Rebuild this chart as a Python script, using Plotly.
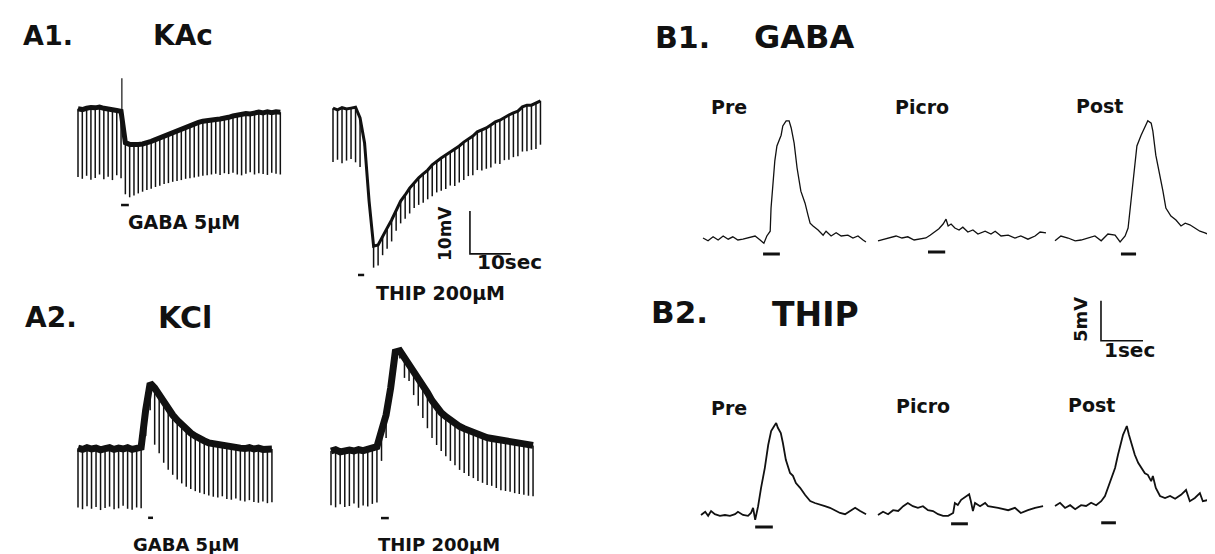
import plotly.graph_objects as go

W, H = 1215, 554
FONT = "DejaVu Sans"
INK = "#111111"

# ---------------- DATA ----------------
# A panels: one value per current pulse (mV, relative to resting level)
A1L_PERIOD = 1.05  # s between hyperpolarizing pulses
A1L_TOP = [0.3, 0.1, 0.4, 0.6, 0.5, 0.7, 0.4, 0.3, 0.1, -0.1, -0.3,
           -7.6, -8.0, -8.1, -8.0, -7.9, -7.7, -7.3, -6.9, -6.5, -6.0, -5.5, -5.0,
           -4.6, -4.2, -3.8, -3.5, -3.1, -2.9, -2.6, -2.4, -2.3, -2.2, -2.1, -2.0,
           -1.7, -1.4, -1.1, -0.9, -0.8, -0.9, -0.6, -0.5, -0.7, -0.4, -0.6, -0.4, -0.5]
A1L_BOT = [-15.6, -16.0, -15.3, -16.2, -15.8, -15.0, -16.1, -15.5, -16.3, -15.2, -15.9,
           -19.6, -20.3, -19.9, -19.4, -19.0, -18.6, -18.3, -17.9, -17.6, -17.2, -17.0,
           -16.7, -16.5, -16.3, -16.0, -15.9, -15.7, -15.5, -15.3, -15.2, -15.0, -14.8,
           -15.1, -14.7, -14.9, -14.6, -15.0, -15.2, -14.8, -14.5, -15.0, -14.7, -14.9,
           -15.1, -14.6, -14.8, -15.0]
A1L_ARTIFACT_T = [10.7, 10.7]
A1L_ARTIFACT_V = [-1.0, 7.4]
A1L_DRUG = [10.5, 12.4]

A1R_PERIOD = 1.1
A1R_TOP = [0.2, -0.2, 0.3, 0.0, 0.2, 0.4, -2.1, -7.9, -21.4, -31.9, -31.6, -29.5, -27.7,
           -25.8, -23.5, -21.4, -20.0, -18.4, -17.2, -16.0, -15.1, -14.2, -13.0, -12.1,
           -11.4, -10.7, -10.0, -9.5, -8.6, -7.7, -7.0, -6.3, -5.3, -4.9, -4.4, -3.7,
           -3.0, -2.6, -1.9, -1.4, -0.9, -0.5, 0.5, 0.9, 0.9, 1.4, 1.9]
A1R_BOT = [-12.3, -11.8, -12.6, -12.0, -11.6, -12.4, -13.5, -8.5, -22.0, -36.9, -36.4,
           -34.0, -32.5, -30.8, -28.3, -26.6, -25.5, -24.3, -23.0, -22.3, -21.8, -21.0,
           -20.3, -19.4, -19.0, -18.6, -17.8, -17.9, -17.1, -16.5, -15.6, -15.4, -14.2,
           -14.3, -13.9, -13.6, -12.7, -12.8, -11.9, -11.8, -11.2, -11.0, -9.9, -9.8,
           -9.5, -9.3, -8.3]
A1R_DRUG = [6.1, 7.6]

A2L_PERIOD = 1.1
A2L_TOP = [0.2, -0.1, 0.3, 0.0, 0.2, -0.2, 0.1, 0.3, -0.1, 0.2, 0.0, 0.3, -0.1, 0.2, 0.4,
           9.0, 15.3, 14.2, 12.6, 10.7, 9.3, 7.9, 6.7, 5.6, 4.7, 3.7, 3.0, 2.3, 1.9, 1.4,
           1.2, 0.9, 0.7, 0.5, 0.2, 0.4, 0.2, 0.1, 0.3, 0.0, 0.2, -0.1, 0.1, 0.0]
A2L_BOT = [-13.6, -14.0, -13.3, -13.9, -13.5, -14.2, -13.7, -13.4, -14.0, -13.8, -13.2,
           -13.9, -14.1, -13.6, -13.8,
           3.0, 9.0, 1.0, -1.0, -3.2, -4.8, -6.0, -7.1, -8.0, -8.8, -9.3, -9.8, -10.2,
           -10.5, -10.8, -11.1, -11.3, -11.0, -11.6, -11.8, -11.5, -12.0, -12.2, -11.9,
           -12.3, -12.5, -12.2, -12.6, -12.4]
A2L_DRUG = [17.1, 18.3]

A2R_PERIOD = 1.12
A2R_TOP = [0.0, 0.3, -0.2, 0.1, 0.2, 0.0, 0.3, 0.1, 0.4, 0.6, 1.0,
           4.7, 8.4, 14.7, 23.0, 23.3, 21.8, 20.3, 18.7, 17.1, 15.2, 13.6, 11.7, 10.1,
           8.9, 8.0, 7.1, 6.4, 5.7, 5.2, 4.7, 4.3, 3.8, 3.6, 3.1, 2.9, 2.7, 2.4, 2.2,
           2.0, 1.9, 1.7, 1.5, 1.4, 1.3]
A2R_BOT = [-12.6, -13.1, -12.4, -13.0, -12.8, -12.2, -13.2, -12.7, -12.9, -12.3, -12.0,
           -2.3, 3.0, 12.0, 20.5, 21.5, 17.0, 16.3, 13.0, 10.5, 7.7, 5.3, 3.0, 1.4, 0.0,
           -1.2, -2.3, -3.3, -4.4, -5.1, -5.8, -6.3, -7.0, -7.4, -7.9, -8.1, -8.6, -9.1,
           -9.3, -9.5, -9.8, -10.0, -10.2, -10.4, -10.5]
A2R_DRUG = [12.2, 14.1]

# B panels: time (s) and membrane potential (mV, relative to baseline)
B1_PRE_T = [0.00, 0.12, 0.24, 0.36, 0.48, 0.60, 0.71, 0.83, 0.95, 1.07, 1.17, 1.24, 1.36,
            1.45, 1.52, 1.60, 1.62, 1.71, 1.76, 1.86, 1.90, 1.98, 2.05, 2.10, 2.17, 2.24,
            2.33, 2.43, 2.50, 2.55, 2.62, 2.74, 2.86, 2.93, 3.05, 3.17, 3.29, 3.45, 3.57,
            3.69, 3.81, 3.88]
B1_PRE_V = [0.25, -0.1, 0.4, 0.0, 0.5, 0.1, 0.4, 0.0, 0.1, 0.25, 0.4, 0.5, 0.0,
            -0.4, 0.5, 1.1, 4.0, 9.9, 11.75, 13.1, 14.25, 14.9, 14.9, 14.0, 12.1, 9.0,
            6.1, 4.6, 3.1, 2.1, 1.75, 1.25, 0.6, 1.1, 0.5, 0.9, 0.5, 0.6, 0.25,
            0.5, 0.0, -0.25]
B1_PRE_DRUG = [1.43, 1.83]

B1_PICRO_T = [0.00, 0.14, 0.29, 0.43, 0.57, 0.71, 0.86, 1.00, 1.14, 1.24, 1.36, 1.45, 1.55,
              1.62, 1.67, 1.74, 1.83, 1.93, 2.02, 2.14, 2.26, 2.38, 2.55, 2.69, 2.79, 2.93,
              3.10, 3.26, 3.40, 3.57, 3.74, 3.86, 4.00]
B1_PICRO_V = [-0.1, 0.1, 0.25, 0.5, 0.25, 0.4, 0.0, 0.1, 0.25, 0.6, 1.1, 1.4, 2.0,
              2.6, 1.75, 2.0, 1.5, 1.25, 1.6, 1.0, 1.25, 0.75, 1.1, 0.75, 1.1, 0.5,
              0.6, 0.25, 0.5, 0.1, 0.5, 1.0, 0.9]
B1_PICRO_DRUG = [1.19, 1.60]

B1_POST_T = [0.00, 0.14, 0.31, 0.48, 0.62, 0.79, 0.95, 1.10, 1.26, 1.43, 1.55, 1.67, 1.74,
             1.81, 1.90, 1.95, 2.05, 2.14, 2.21, 2.29, 2.33, 2.40, 2.50, 2.57, 2.64, 2.76,
             2.88, 3.00, 3.10, 3.21, 3.33, 3.45, 3.57, 3.69, 3.81, 3.95]
B1_POST_V = [-0.1, 0.5, 0.25, -0.1, 0.0, 0.25, 0.5, -0.1, 0.75, 0.6, -0.25, 0.5, 1.5,
             4.9, 9.9, 11.75, 13.1, 14.25, 14.9, 14.6, 13.6, 10.6, 8.1, 6.1, 4.0, 3.0,
             2.5, 1.75, 2.1, 1.9, 1.5, 1.1, 0.9, 0.6, 0.25, 0.0]
B1_POST_DRUG = [1.57, 1.93]

B2_PRE_T = [0.00, 0.10, 0.17, 0.24, 0.33, 0.45, 0.57, 0.69, 0.81, 0.88, 1.00, 1.12, 1.19,
            1.24, 1.29, 1.36, 1.43, 1.52, 1.60, 1.67, 1.74, 1.79, 1.83, 1.90, 1.95, 2.02,
            2.12, 2.19, 2.26, 2.36, 2.48, 2.60, 2.71, 2.83, 2.95, 3.07, 3.19, 3.31, 3.43,
            3.55, 3.67, 3.79, 3.93]
B2_PRE_V = [0.0, 0.4, -0.1, 0.5, 0.1, -0.1, 0.0, -0.1, 0.1, 0.4, 0.0, -0.1, 0.25,
            0.9, -0.6, 1.1, 3.4, 5.9, 8.75, 10.5, 11.1, 11.5, 10.9, 10.25, 9.0, 6.9,
            5.25, 4.9, 4.0, 3.4, 2.5, 1.75, 1.5, 1.25, 1.1, 0.9, 0.6, 0.25, 0.1,
            0.5, 0.9, 0.5, 0.1]
B2_PRE_DRUG = [1.29, 1.71]

B2_PICRO_T = [0.00, 0.12, 0.24, 0.36, 0.48, 0.60, 0.71, 0.83, 0.95, 1.07, 1.19, 1.31, 1.43,
              1.55, 1.67, 1.79, 1.83, 1.90, 1.98, 2.10, 2.17, 2.21, 2.26, 2.31, 2.43, 2.55,
              2.62, 2.86, 3.10, 3.26, 3.40, 3.57, 3.74, 3.93]
B2_PICRO_V = [0.0, 0.4, 0.1, 0.6, 0.5, 1.1, 1.5, 1.1, 0.9, 1.1, 0.6, 0.5, 0.1,
              -0.1, -0.1, 0.25, 1.5, 1.25, 1.9, 2.4, 2.6, 1.75, 0.5, 1.5, 1.1, 1.5,
              1.1, 0.9, 0.6, 0.9, 0.25, 0.6, 0.9, 1.1]
B2_PICRO_DRUG = [1.74, 2.14]

B2_POST_T = [0.00, 0.12, 0.24, 0.36, 0.48, 0.62, 0.74, 0.86, 0.98, 1.10, 1.19, 1.26, 1.33,
             1.43, 1.50, 1.57, 1.62, 1.67, 1.71, 1.76, 1.81, 1.90, 1.98, 2.05, 2.14, 2.21,
             2.29, 2.33, 2.40, 2.50, 2.62, 2.74, 2.86, 3.00, 3.12, 3.21, 3.33, 3.45, 3.52,
             3.64, 3.76, 3.88, 4.00]
B2_POST_V = [0.0, 0.4, -0.25, 0.1, -0.4, 0.1, 0.0, 0.4, 0.1, 0.6, 1.25, 2.25, 3.5,
             4.75, 6.4, 7.9, 8.9, 9.5, 10.0, 8.9, 7.9, 6.4, 5.4, 4.75, 4.1, 3.9,
             3.1, 3.75, 2.25, 1.25, 1.0, 1.25, 0.9, 1.4, 2.0, 0.6, 1.0, 1.6, 0.6,
             0.75, 1.25, 0.6, 1.4]
B2_POST_DRUG = [1.10, 1.45]

SCALE_A = (10, 10)   # 10 sec, 10 mV
SCALE_B = (1, 5)     # 1 sec, 5 mV

# ---------------- LAYOUT (pixel placement of each recording) ----------------
A_SX, A_SY = 4.1, 4.3   # px per s, px per mV
B_SX, B_SY = 42.0, 8.0

PANELS = [  # name, origin x px, origin y px (t=0, V=0), px/s, px/mV
    ("A1L", 70, 102, A_SX, A_SY),
    ("A1R", 325, 101, A_SX, A_SY),
    ("A2L", 70, 441, A_SX, A_SY),
    ("A2R", 323, 443, A_SX, A_SY),
    ("B1pre", 695, 232, B_SX, B_SY),
    ("B1picro", 870, 232, B_SX, B_SY),
    ("B1post", 1047, 232, B_SX, B_SY),
    ("B2pre", 693, 507, B_SX, B_SY),
    ("B2picro", 870, 507, B_SX, B_SY),
    ("B2post", 1047, 498, B_SX, B_SY),
]

fig = go.Figure()
layout_axes = {}
AX = {}
for k, (name, ox, oy, sx, sy) in enumerate(PANELS, start=1):
    xs = "" if k == 1 else str(k)
    xa, ya = "x" + xs, "y" + xs
    xd = dict(domain=[0, 1], range=[-ox / sx, (W - ox) / sx], visible=False,
              fixedrange=True, anchor=ya)
    yd = dict(domain=[0, 1], range=[(oy - H) / sy, oy / sy], visible=False,
              fixedrange=True, anchor=xa)
    if k > 1:
        xd["overlaying"] = "x"
        yd["overlaying"] = "y"
    layout_axes["xaxis" + xs] = xd
    layout_axes["yaxis" + xs] = yd
    AX[name] = (xa, ya)


def line(name, x, y, width, color=INK):
    xa, ya = AX[name]
    fig.add_trace(go.Scatter(x=x, y=y, mode="lines", xaxis=xa, yaxis=ya,
                             line=dict(color=color, width=width),
                             hoverinfo="skip", showlegend=False))


def pulse_trace(name, period, top, bot, band_w, pulse_w=1.5):
    t = [i * period for i in range(len(top))]
    px, py = [], []
    for ti, a, b in zip(t, top, bot):
        px += [ti, ti, None]
        py += [a, b, None]
    line(name, px, py, pulse_w)
    line(name, t, top, band_w)


pulse_trace("A1L", A1L_PERIOD, A1L_TOP, A1L_BOT, 5)
line("A1L", A1L_ARTIFACT_T, A1L_ARTIFACT_V, 1.2)
pulse_trace("A1R", A1R_PERIOD, A1R_TOP, A1R_BOT, 3)
pulse_trace("A2L", A2L_PERIOD, A2L_TOP, A2L_BOT, 7)
pulse_trace("A2R", A2R_PERIOD, A2R_TOP, A2R_BOT, 7)

line("B1pre", B1_PRE_T, B1_PRE_V, 1.3)
line("B1picro", B1_PICRO_T, B1_PICRO_V, 1.3)
line("B1post", B1_POST_T, B1_POST_V, 1.3)
line("B2pre", B2_PRE_T, B2_PRE_V, 1.8)
line("B2picro", B2_PICRO_T, B2_PICRO_V, 1.8)
line("B2post", B2_POST_T, B2_POST_V, 1.8)

# drug application bars (level in mV below each trace: layout choice)
BAR_LEVEL = {"A1L": -22.1, "A1R": -38.6, "A2L": -16.0, "A2R": -15.6,
             "B1pre": -1.75, "B1picro": -1.5, "B1post": -1.75,
             "B2pre": -1.5, "B2picro": -1.1, "B2post": -2.1}
DRUGS = {"A1L": A1L_DRUG, "A1R": A1R_DRUG, "A2L": A2L_DRUG, "A2R": A2R_DRUG,
         "B1pre": B1_PRE_DRUG, "B1picro": B1_PICRO_DRUG, "B1post": B1_POST_DRUG,
         "B2pre": B2_PRE_DRUG, "B2picro": B2_PICRO_DRUG, "B2post": B2_POST_DRUG}
for name, (t0, t1) in DRUGS.items():
    lv = BAR_LEVEL[name]
    line(name, [t0, t1], [lv, lv], 2.5 if name.startswith("A") else 3)

# scale bars
a_anchor = (33.4, -33.7)   # in A1R units
line("A1R", [a_anchor[0], a_anchor[0], a_anchor[0] + SCALE_A[0]],
     [a_anchor[1] + SCALE_A[1], a_anchor[1], a_anchor[1]], 1.6)
b_anchor = (1.095, -12.6)  # in B1post units
line("B1post", [b_anchor[0], b_anchor[0], b_anchor[0] + SCALE_B[0]],
     [b_anchor[1] + SCALE_B[1], b_anchor[1], b_anchor[1]], 1.6)

# ---------------- TEXT ----------------
TEXT_OFFSET = 7  # compensate for the text box baseline offset


def label(text, cx, cy, size, angle=0):
    if angle:
        cx, cy = cx - TEXT_OFFSET, cy
    else:
        cy = cy - TEXT_OFFSET
    fig.add_annotation(text=text, x=cx / W, y=1 - cy / H,
                       xref="paper", yref="paper",
                       xanchor="center", yanchor="middle", showarrow=False,
                       textangle=angle, borderpad=0,
                       font=dict(family=FONT, size=size, color=INK, weight="bold"))


label("A1.", 40, 34, 27)
label("KAc", 175, 34, 28)
label("GABA 5µM", 176, 221, 19)
label("THIP 200µM", 432, 292, 19)
label("10mV", 444, 226, 17, angle=-90)
label("10sec", 501, 261, 20)
label("A2.", 43, 316, 28)
label("KCl", 177, 316, 30)
label("GABA 5µM", 178, 543, 18)
label("THIP 200µM", 431, 543, 18)

label("B1.", 674, 37, 30)
label("GABA", 796, 36, 32)
label("Pre", 721, 106, 19)
label("Picro", 914, 106, 19)
label("Post", 1091, 105, 19)
label("5mV", 1079, 312, 18, angle=-90)
label("1sec", 1121, 349, 20)
label("B2.", 672, 311, 31)
label("THIP", 807, 313, 33)
label("Pre", 721, 407, 19)
label("Picro", 915, 405, 19)
label("Post", 1083, 404, 19)

fig.update_layout(width=W, height=H, margin=dict(l=0, r=0, t=0, b=0),
                  paper_bgcolor="white", plot_bgcolor="rgba(0,0,0,0)",
                  showlegend=False, **layout_axes)

fig.write_html("out.html", include_plotlyjs=True, config={"displayModeBar": False})
